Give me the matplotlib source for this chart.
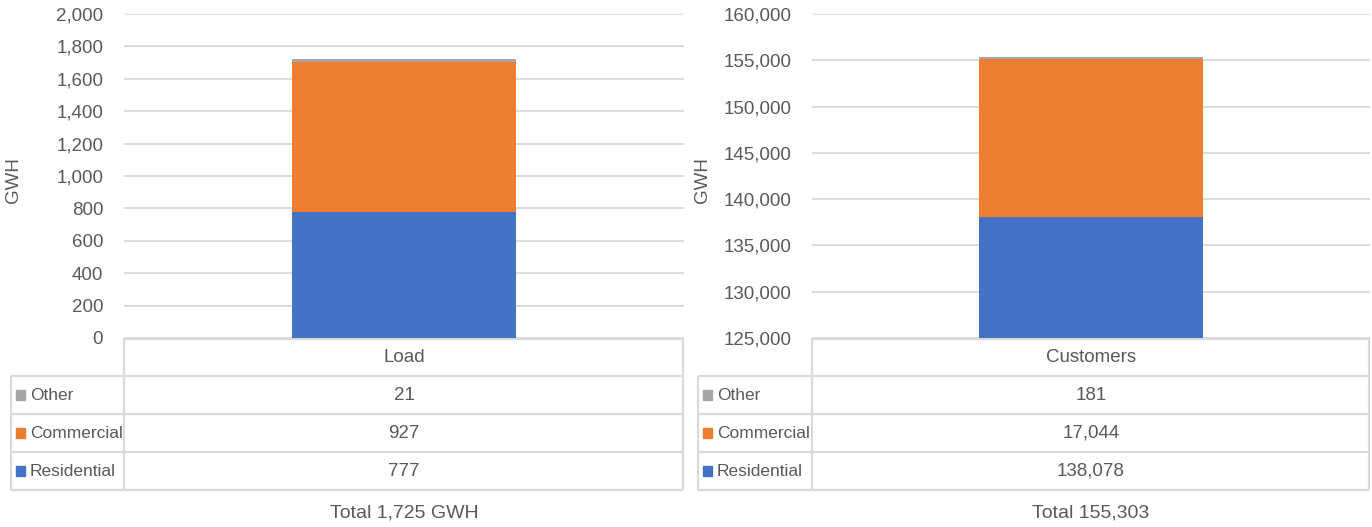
import matplotlib
matplotlib.use("Agg")
import matplotlib.pyplot as plt
from matplotlib.patches import Rectangle
from matplotlib.ticker import FuncFormatter

plt.rcParams['font.family'] = ['Liberation Sans Narrow', 'Liberation Sans', 'DejaVu Sans']

# ---- data ----
series = ["Other", "Commercial", "Residential"]
colors = {"Residential": "#4472C4", "Commercial": "#ED7D31", "Other": "#A5A5A5"}
load_cat = "Load"
load_vals = {"Residential": 777, "Commercial": 927, "Other": 21}
load_total = "Total 1,725 GWH"
cust_cat = "Customers"
cust_vals = {"Residential": 138078, "Commercial": 17044, "Other": 181}
cust_total = "Total 155,303"
load_ticks = list(range(0, 2001, 200))
cust_ticks = list(range(125000, 160001, 5000))

W, H = 1372, 527
fig = plt.figure(figsize=(W / 100, H / 100), dpi=100)

def rect(x0, y0, x1, y1):
    return [x0 / W, 1 - y1 / H, (x1 - x0) / W, (y1 - y0) / H]

GRID = "#D9D9D9"
TXT = "#595959"
FS = 13.5

def panel(ax_x0, ax_x1, tab_x0, cat, vals, ticks, total, ylab_x):
    ax = fig.add_axes(rect(ax_x0, 14, ax_x1, 338))
    bottom = 0
    for s in ["Residential", "Commercial", "Other"]:
        ax.bar([0], [vals[s]], bottom=bottom, width=0.4, color=colors[s], zorder=3)
        bottom += vals[s]
    ax.set_xlim(-0.5, 0.5)
    ax.set_ylim(ticks[0], ticks[-1])
    ax.set_yticks(ticks)
    ax.yaxis.set_major_formatter(FuncFormatter(lambda v, p: f"{int(v):,}"))
    ax.tick_params(axis='y', length=0, pad=15, labelsize=FS, labelcolor=TXT)
    ax.set_xticks([])
    ax.grid(axis='y', color=GRID, linewidth=1.3, zorder=0)
    for sp in ax.spines.values():
        sp.set_visible(False)
    fig.text(ylab_x / W, 1 - 180 / H, "GWH", rotation=90, ha='center', va='center',
             fontsize=FS, color=TXT)

    # data table
    tx = fig.add_axes(rect(tab_x0, 338, ax_x1, 492))
    tx.set_xlim(tab_x0, ax_x1)
    tx.set_ylim(492, 338)
    tx.axis('off')
    lc = dict(color=GRID, linewidth=1.6, solid_capstyle='butt')
    tx.plot([ax_x0, ax_x1], [339, 339], **lc)
    for yy in [376, 414, 452, 490]:
        tx.plot([tab_x0 + 1, ax_x1 - 1], [yy, yy], **lc)
    tx.plot([ax_x0, ax_x0], [338, 490], **lc)
    tx.plot([ax_x1 - 1, ax_x1 - 1], [338, 490], **lc)
    tx.plot([tab_x0 + 1, tab_x0 + 1], [376, 490], **lc)
    cx = (ax_x0 + ax_x1) / 2
    tx.text(cx, 357, cat, ha='center', va='center', fontsize=FS, color=TXT)
    for i, s in enumerate(series):
        yc = 395 + 38 * i
        tx.add_patch(Rectangle((tab_x0 + 6, yc - 5), 9, 10, color=colors[s]))
        tx.text(tab_x0 + 20, yc, s, ha='left', va='center', fontsize=12.5, color=TXT)
        tx.text(cx, yc, f"{vals[s]:,}", ha='center', va='center', fontsize=FS, color=TXT)
    fig.text(cx / W, 1 - 513 / H, total, ha='center', va='center', fontsize=FS + 0.5, color=TXT)

panel(124, 684, 10, load_cat, load_vals, load_ticks, load_total, 14)
panel(812, 1370, 697, cust_cat, cust_vals, cust_ticks, cust_total, 703)

fig.savefig("out.png", dpi=100)
